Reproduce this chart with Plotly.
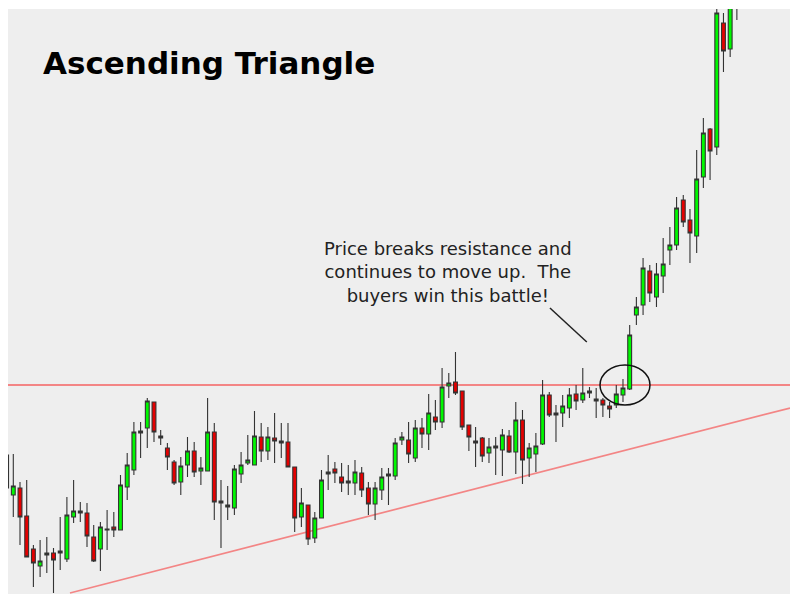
import plotly.graph_objects as go

# ---- data (price units) ----
opens = [145, 105, 112, 84, 51, 34, 45, 47, 47, 41,
         83, 89, 87, 63, 51, 70, 73, 70, 113, 130,
         167, 172, 198, 164, 152, 138, 118, 135, 149, 129,
         129, 168, 99, 93, 92, 126, 137, 135, 163, 149,
         162, 159, 158, 133, 83, 95, 62, 82, 126, 131,
         123, 117, 117, 127, 112, 96, 110, 124, 124, 160,
         160, 142, 172, 166, 183, 178, 214, 218, 209, 175,
         159, 162, 147, 152, 150, 164, 148, 180, 142, 146,
         156, 205, 185, 187, 192, 206, 200, 207, 199, 200,
         194, 195, 205, 211, 285, 295, 329, 303, 324, 350,
         355, 400, 380, 364, 423, 471, 453, 577, 551, 600]
highs = [148, 146, 118, 120, 55, 60, 63, 52, 83, 103,
         120, 98, 97, 75, 78, 90, 88, 125, 147, 178,
         178, 202, 198, 170, 157, 140, 143, 163, 158, 143,
         202, 177, 120, 114, 135, 148, 165, 189, 177, 173,
         187, 177, 177, 133, 112, 95, 88, 130, 145, 138,
         137, 135, 140, 133, 118, 118, 132, 132, 162, 168,
         178, 180, 182, 206, 200, 232, 227, 248, 209, 175,
         173, 163, 162, 163, 171, 170, 198, 190, 157, 167,
         220, 208, 195, 205, 212, 215, 232, 213, 212, 202,
         198, 215, 221, 275, 303, 342, 335, 337, 362, 373,
         403, 405, 391, 450, 482, 472, 595, 587, 620, 650]
lows = [110, 83, 55, 43, 13, 23, 27, 7, 30, 38,
        77, 78, 53, 38, 29, 50, 63, 70, 100, 125,
        142, 152, 158, 155, 130, 115, 105, 123, 123, 115,
        129, 80, 52, 80, 85, 117, 135, 135, 138, 140,
        137, 142, 133, 68, 73, 55, 57, 82, 110, 117,
        108, 105, 105, 103, 85, 80, 100, 95, 120, 155,
        137, 138, 152, 150, 170, 172, 202, 205, 170, 149,
        133, 138, 137, 125, 124, 147, 126, 116, 123, 128,
        155, 183, 158, 173, 182, 190, 197, 202, 182, 183,
        182, 192, 198, 210, 275, 285, 298, 293, 307, 335,
        350, 373, 337, 347, 412, 420, 445, 528, 543, 580]
closes = [112, 114, 83, 43, 37, 39, 47, 40, 49, 85,
          89, 87, 64, 39, 73, 71, 70, 115, 135, 168,
          169, 199, 168, 162, 143, 117, 134, 149, 128, 132,
          168, 98, 97, 95, 131, 135, 140, 164, 149, 163,
          159, 157, 133, 82, 97, 61, 82, 120, 128, 127,
          117, 119, 128, 110, 96, 112, 123, 126, 157, 163,
          146, 172, 166, 187, 178, 213, 217, 207, 173, 163,
          157, 144, 153, 154, 165, 148, 180, 140, 152, 154,
          205, 185, 187, 194, 205, 199, 207, 209, 201, 195,
          191, 206, 212, 265, 293, 332, 307, 326, 336, 355,
          392, 378, 367, 421, 467, 449, 587, 549, 610, 640]
bars = list(range(len(opens)))

title_text = "Ascending Triangle"
note_lines = ["Price breaks resistance and",
              "continues to move up.  The",
              "buyers win this battle!"]

resistance_level = 215
support_start = (9.46, 7)
support_end = (116.93, 192)
breakout_circle = (88.57, 195, 96.03, 235)
pointer = (81.1, 292, 86.6, 258)

x_range = [0.209, 116.93]
y_range = [6, 591]

GREEN = "#00f800"
RED = "#e40000"
EDGE = "#333333"
LINE_RED = "#f38585"

fig = go.Figure()
fig.add_trace(go.Candlestick(
    x=bars, open=opens, high=highs, low=lows, close=closes,
    increasing=dict(fillcolor=GREEN, line=dict(color=EDGE, width=1.1)),
    decreasing=dict(fillcolor=RED, line=dict(color=EDGE, width=1.1)),
    whiskerwidth=0, hoverinfo="skip", showlegend=False,
))

# resistance (horizontal) line
fig.add_shape(type="line", xref="paper", yref="y", x0=0, x1=1,
              y0=resistance_level, y1=resistance_level,
              line=dict(color=LINE_RED, width=2.2), layer="below")
# rising support line
fig.add_shape(type="line", x0=support_start[0], y0=support_start[1],
              x1=support_end[0], y1=support_end[1],
              line=dict(color=LINE_RED, width=1.7), layer="below")
# breakout circle
fig.add_shape(type="circle", x0=breakout_circle[0], y0=breakout_circle[1],
              x1=breakout_circle[2], y1=breakout_circle[3],
              line=dict(color="#111111", width=1.5))
# pointer line
fig.add_shape(type="line", x0=pointer[0], y0=pointer[1],
              x1=pointer[2], y1=pointer[3],
              line=dict(color="#222222", width=1.5))

fig.add_annotation(x=5.15, y=537, text="<b>" + title_text + "</b>",
                   showarrow=False, xanchor="left", yanchor="middle",
                   font=dict(family="DejaVu Sans", size=31, color="#000000"))
fig.add_annotation(x=65.9, y=328, text="<br>".join(note_lines),
                   showarrow=False, xanchor="center", yanchor="middle",
                   align="center",
                   font=dict(family="DejaVu Sans", size=18, color="#222222"))

fig.update_layout(
    width=790, height=594,
    margin=dict(l=8, r=0, t=9, b=0),
    paper_bgcolor="#ffffff", plot_bgcolor="#eeeeee",
    boxgap=0.18,
    hovermode=False,
    xaxis=dict(range=x_range, visible=False, rangeslider=dict(visible=False),
               showgrid=False, zeroline=False, fixedrange=True),
    yaxis=dict(range=y_range, visible=False, showgrid=False, zeroline=False,
               fixedrange=True),
)

fig.write_html("out.html",
               config={"displayModeBar": False, "staticPlot": True},
               post_script="document.body.style.margin='0';"
                           "document.body.style.overflow='hidden';")
